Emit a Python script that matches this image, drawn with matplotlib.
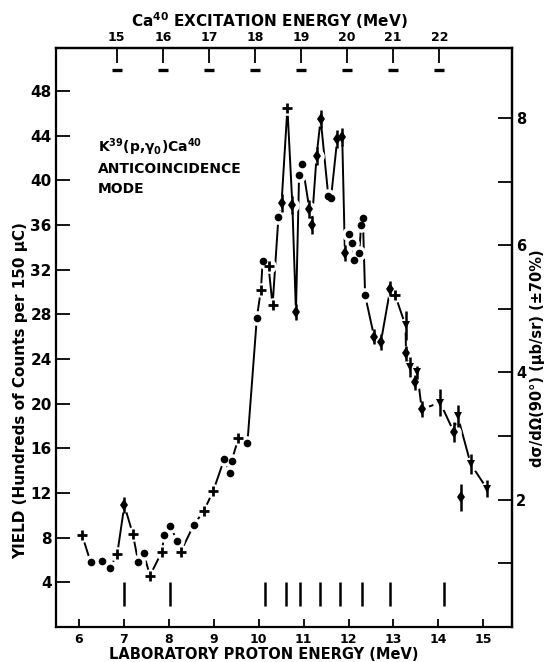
import numpy as np
import matplotlib.pyplot as plt

plt.rcParams['font.family'] = 'DejaVu Sans'
plt.rcParams['font.weight'] = 'bold'
plt.rcParams['axes.labelweight'] = 'bold'
plt.rcParams['mathtext.default'] = 'bf'

# lab proton energy (MeV), yield (hundreds of counts per 150 uC)
energy = [6.07, 6.26, 6.51, 6.69, 6.85, 7.01, 7.20, 7.32, 7.44, 7.58,
          7.84, 7.90, 8.03, 8.19, 8.26, 8.55, 8.78, 8.99, 9.23, 9.36,
          9.40, 9.55, 9.75, 9.96, 10.05, 10.09, 10.22, 10.31, 10.44, 10.51,
          10.64, 10.75, 10.83, 10.90, 10.97, 11.13, 11.18, 11.29, 11.38, 11.55,
          11.61, 11.75, 11.86, 11.92, 12.00, 12.07, 12.13, 12.24, 12.28, 12.32,
          12.37, 12.57, 12.72, 12.93, 13.04, 13.27, 13.28, 13.36, 13.48, 13.53,
          13.63, 14.04, 14.34, 14.43, 14.51, 14.72, 15.08]
yld = [8.2, 5.8, 5.9, 5.3, 6.5, 10.9, 8.3, 5.8, 6.6, 4.6,
       6.7, 8.2, 9.0, 7.7, 6.7, 9.1, 10.4, 12.2, 15.0, 13.8,
       14.9, 16.9, 16.5, 27.7, 30.2, 32.8, 32.3, 28.8, 36.7, 38.0,
       46.5, 37.8, 28.2, 40.5, 41.5, 37.4, 36.0, 42.2, 45.5, 38.6,
       38.4, 43.7, 43.9, 33.5, 35.2, 34.4, 32.9, 33.5, 36.0, 36.6,
       29.7, 26.0, 25.5, 30.3, 29.7, 27.0, 24.5, 23.3, 21.9, 22.8,
       19.5, 20.1, 17.5, 18.9, 11.6, 14.6, 12.4]
kind = ['+', 'o', 'o', 'o', '+', 'd', '+', 'o', 'o', '+',
        '+', 'o', 'o', 'o', '+', 'o', '+', '+', 'o', 'o',
        'o', '+', 'o', 'o', '+', 'o', '+', '+', 'o', 'd',
        '+', 'd', 'd', 'o', 'o', 'd', 'd', 'd', 'd', 'o',
        'o', 'd', 'd', 'd', 'o', 'o', 'o', 'o', 'o', 'o',
        'o', 'd', 'd', 'd', '+', 'v', 'd', 'v', 'd', 'v',
        'd', 'v', 'd', 'v', 'd', 'v', 'v']
err = [0, 0, 0, 0, 0, 0.7, 0, 0, 0, 0,
       0, 0, 0, 0, 0, 0, 0, 0, 0, 0,
       0, 0, 0, 0, 0, 0, 0, 0, 0, 0.8,
       0, 0.8, 0.7, 0, 0, 0.8, 0.8, 0.8, 0.8, 0,
       0, 0.8, 0.8, 0.7, 0, 0, 0, 0, 0, 0,
       0, 0.7, 0.7, 0.7, 0, 1.3, 0.7, 0.9, 0.7, 0.6,
       0.7, 1.2, 0.9, 1.0, 1.2, 0.9, 0.75]
on_curve = [True] * 64 + [False] + [True] * 2

# resonance markers along the bottom
resonances = [7.0, 8.02, 10.13, 10.6, 10.93, 11.37, 11.8, 12.29, 12.93, 14.13]
ex_ticks = [15, 16, 17, 18, 19, 20, 21, 22]
left_ticks = [4, 8, 12, 16, 20, 24, 28, 32, 36, 40, 44, 48]
right_ticks = [2, 4, 6, 8]
right_minor = [1, 3, 5, 7]

Q = 8.33
k = 0.1755


def ep2ex(ep):
    return Q + np.asarray(ep) * 39.0 / 40.0


def ex2ep(ex):
    return (np.asarray(ex) - Q) * 40.0 / 39.0


x = np.array(energy)
y = np.array(yld)
kd = np.array(kind)
e = np.array(err)
oc = np.array(on_curve)

fig = plt.figure(figsize=(5.45, 6.62), dpi=100)
ax = fig.add_axes([56 / 545, 35 / 662, 456 / 545, 579 / 662])
ax.set_xlim(5.488, 15.64)
ax.set_ylim(0, 51.85)

ax.plot(x[oc], y[oc], color='k', lw=1.4, zorder=2)
ax.scatter(x, y, s=110, color='white', zorder=3, linewidths=0)

styles = {'o': dict(marker='o', ms=5.5, mew=0),
          '+': dict(marker='+', ms=7, mew=2),
          'd': dict(marker='d', ms=6, mew=0),
          'v': dict(marker='v', ms=6, mew=0)}
for m, st in styles.items():
    sel = kd == m
    ax.plot(x[sel], y[sel], ls='none', color='k', zorder=5, **st)
sel = e > 0
ax.vlines(x[sel], y[sel] - e[sel], y[sel] + e[sel], color='k', lw=1.8, zorder=5)

ax.vlines(resonances, 1.9, 4.0, color='k', lw=1.8)
ax.plot(ex2ep(ex_ticks), [49.9] * len(ex_ticks), ls='none', marker='_',
        ms=7, mew=2.4, color='k')

for s in ax.spines.values():
    s.set_linewidth(1.6)

ax.set_xticks(range(6, 16))
ax.set_yticks(left_ticks)
ax.tick_params(axis='x', direction='in', length=6, width=1.3, pad=4,
               labelsize=9, top=False)
ax.tick_params(axis='y', direction='in', length=10, width=1.3, pad=3,
               labelsize=11, right=False)

ax.set_xlabel('LABORATORY PROTON ENERGY (MeV)', fontsize=10.5, fontweight='bold')
ax.xaxis.set_label_coords(0.455, -0.035)
ax.set_ylabel('YIELD (Hundreds of Counts per 150 μC)', fontsize=11,
              fontweight='bold')
ax.yaxis.set_label_coords(-0.062, 0.408)

top = ax.secondary_xaxis('top', functions=(ep2ex, ex2ep))
top.set_xticks(ex_ticks)
top.tick_params(direction='in', length=11, width=1.3, pad=3, labelsize=9)
top.spines['top'].set_linewidth(1.6)
top.set_xlabel('Ca$^{40}$ EXCITATION ENERGY (MeV)', fontsize=11,
               fontweight='bold', va='bottom')
top.xaxis.set_label_coords(0.469, 1.029, transform=ax.transAxes)

right = ax.secondary_yaxis('right', functions=(lambda v: v * k, lambda v: v / k))
right.set_yticks(right_ticks)
right.set_yticks(right_minor, minor=True)
right.tick_params(which='both', direction='in', length=10, width=1.3, pad=3,
                  labelsize=10.5)
right.spines['right'].set_linewidth(1.6)
right.set_ylabel('dσ/dΩ(90°) (μb/sr) (±70%)', fontsize=10.5, fontweight='bold',
                 rotation=90, va='top')
right.yaxis.set_label_coords(1.039, 0.465, transform=ax.transAxes)

ax.text(0.092, 0.8206, 'K$^{39}$(p,γ$_0$)Ca$^{40}$', transform=ax.transAxes,
        fontsize=10, va='baseline')
ax.text(0.092, 0.7844, 'ANTICOINCIDENCE', transform=ax.transAxes,
        fontsize=10, va='baseline')
ax.text(0.092, 0.7499, 'MODE', transform=ax.transAxes,
        fontsize=10, va='baseline')

fig.savefig('out.png', dpi=100)
